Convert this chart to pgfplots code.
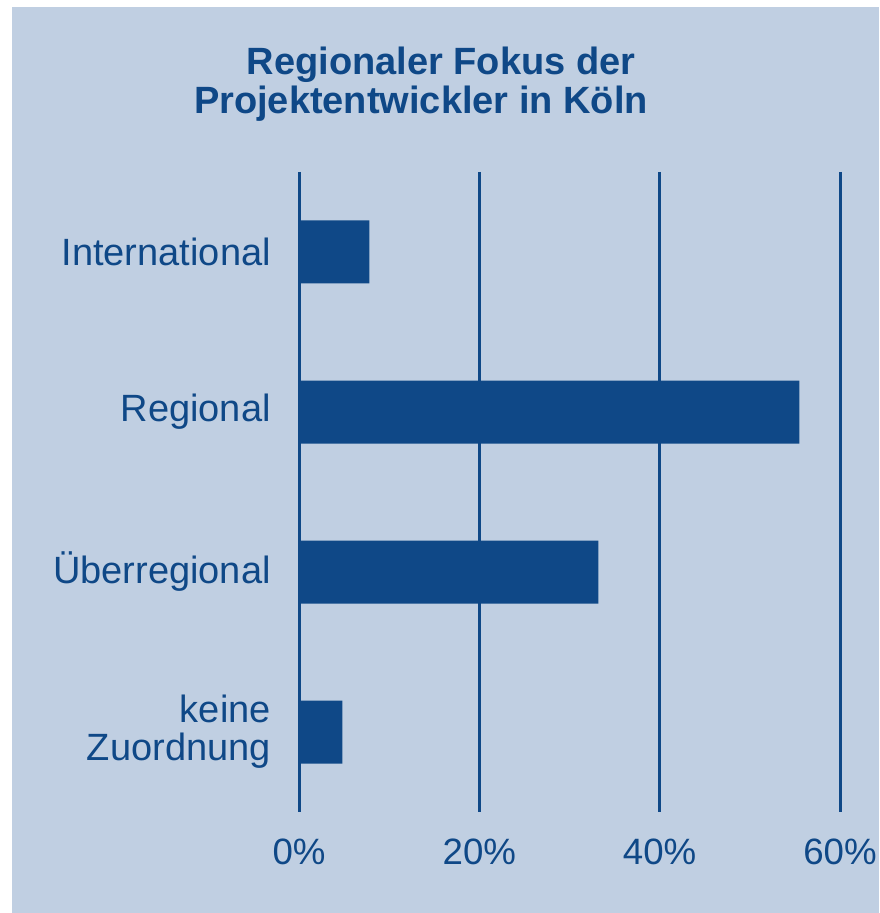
\documentclass[border=0pt]{standalone}
\usepackage{pgfplots}
\pgfplotsset{compat=1.18}
\usepackage{fontspec}
\setmainfont{Liberation Sans}
\definecolor{bg}{HTML}{C0CFE2}
\definecolor{db}{HTML}{0F4887}
\begin{document}
\begin{tikzpicture}[x=0.75pt,y=0.75pt]
\fill[white] (0,0) rectangle (879,913);
\fill[bg] (12,0) rectangle (879,906);
\node[anchor=base, inner sep=0, font=\fontsize{28.5}{34}\selectfont\bfseries, text=db] at (441,838) {Regionaler Fokus der};
\node[anchor=base, inner sep=0, font=\fontsize{28.5}{34}\selectfont\bfseries, text=db] at (421,799) {Projektentwickler in Köln};
\begin{axis}[
  at={(224.25pt,75.75pt)}, anchor=south west,
  scale only axis, width=405.75pt, height=480pt,
  xmin=0, xmax=60, ymin=-0.5, ymax=3.5, y dir=reverse,
  xbar, bar width=47.25pt,
  axis line style={draw=none},
  xtick={0,20,40,60}, xticklabels={0\%,20\%,40\%,60\%},
  ytick={0,1,2,3},
  yticklabels={International,Regional,Überregional,{keine\\Zuordnung}},
  xmajorgrids, major grid style={db, line width=2.25pt},
  major tick length=0pt, tick style={draw=none},
  ticklabel style={text=db},
  xticklabel style={anchor=base, inner sep=0pt, yshift=-39pt, font=\fontsize{27.5}{30}\selectfont},
  yticklabel style={anchor=east, inner sep=0pt, xshift=-21pt, align=right, font=\fontsize{28.5}{28.5}\selectfont},
  clip=false,
]
\addplot[fill=db, draw=none] coordinates {(7.8,0) (55.5,1) (33.2,2) (4.8,3)};
\end{axis}
\end{tikzpicture}
\end{document}
